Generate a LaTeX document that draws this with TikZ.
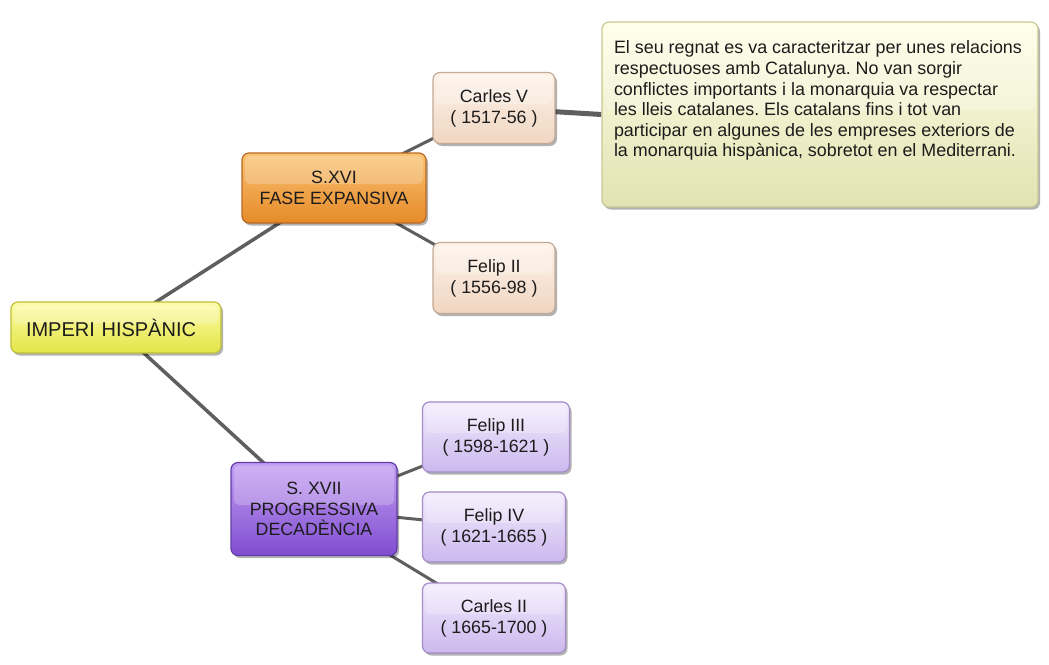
\documentclass[tikz,border=0pt]{standalone}
\usepackage{fontspec}
\setmainfont{Liberation Sans}
\usetikzlibrary{shadows,backgrounds}
\definecolor{txt}{RGB}{28,28,28}
\definecolor{linegray}{RGB}{95,95,95}
\definecolor{yelT}{RGB}{252,252,170}
\definecolor{yelB}{RGB}{228,228,70}
\definecolor{yelD}{RGB}{190,190,60}
\definecolor{orT}{RGB}{250,195,115}
\definecolor{orB}{RGB}{230,138,40}
\definecolor{orD}{RGB}{185,105,35}
\definecolor{peT}{RGB}{254,243,234}
\definecolor{peB}{RGB}{240,214,194}
\definecolor{peD}{RGB}{195,170,150}
\definecolor{deT}{RGB}{255,255,232}
\definecolor{deB}{RGB}{226,226,178}
\definecolor{deD}{RGB}{200,200,150}
\definecolor{puT}{RGB}{195,158,242}
\definecolor{puB}{RGB}{128,78,208}
\definecolor{puD}{RGB}{100,60,170}
\definecolor{lpT}{RGB}{243,236,253}
\definecolor{lpB}{RGB}{204,184,238}
\definecolor{lpD}{RGB}{165,140,200}
\frenchspacing
\begin{document}
\begin{tikzpicture}[x=1pt,y=-1pt,
  box/.style={rounded corners=7pt, line width=1.2pt, align=center, text=txt,
    font=\fontsize{17.8}{21}\selectfont, inner sep=2pt,
    drop shadow={shadow xshift=2pt,shadow yshift=-2.5pt,opacity=0.3,fill=black},
    path picture={\fill[white,opacity=0.22,rounded corners=5pt]
      ([xshift=3pt,yshift=-3pt]path picture bounding box.north west) rectangle
      ([xshift=-3pt,yshift=4pt]path picture bounding box.east);}},
  rootbox/.style={box, draw=yelD, top color=yelT, bottom color=yelB},
  orbox/.style={box, draw=orD, top color=orT, bottom color=orB},
  pebox/.style={box, draw=peD, top color=peT, bottom color=peB},
  descbox/.style={box, draw=deD, top color=deT, bottom color=deB},
  pubox/.style={box, draw=puD, top color=puT, bottom color=puB},
  lpbox/.style={box, draw=lpD, top color=lpT, bottom color=lpB},
  conn/.style={draw=linegray, line width=3pt},
  rootconn/.style={draw=linegray, line width=3.5pt},
  descconn/.style={draw=linegray, line width=5pt}]
\useasboundingbox (0,0) rectangle (1049,664);

\node[rootbox, minimum width=210pt, minimum height=51pt, text width=180pt,
  inner xsep=15pt, align=left, font=\fontsize{20}{24}\selectfont]
  (imp) at (116,327.5) {IMPERI HISPÀNIC};

\node[orbox, minimum width=184pt, minimum height=70pt] (xvi) at (334,188)
  {S.XVI\\FASE EXPANSIVA};
\node[pebox, minimum width=122pt, minimum height=71pt] (carlesv) at (494,108)
  {Carles V\\( 1517-56 )};
\node[pebox, minimum width=122pt, minimum height=71pt] (felipii) at (494,278)
  {Felip II\\( 1556-98 )};

\node[descbox, minimum width=436pt, minimum height=185pt, inner xsep=12pt, inner ysep=19pt]
  (desc) at (820,114.5)
  {\parbox[c][147pt][t]{412pt}{\raggedright\fontsize{17.9}{20.6}\selectfont
  El seu regnat es va caracteritzar per unes relacions\\
  respectuoses amb Catalunya. No van sorgir\\
  conflictes importants i la monarquia va respectar\\
  les lleis catalanes. Els catalans fins i tot van\\
  participar en algunes de les empreses exteriors de\\
  la monarquia hispànica, sobretot en el Mediterrani.}};

\node[pubox, minimum width=166pt, minimum height=93pt, font=\fontsize{17.8}{20.5}\selectfont]
  (xvii) at (314,509) {S. XVII\\PROGRESSIVA\\DECADÈNCIA};
\node[lpbox, minimum width=147pt, minimum height=70pt] (felipiii) at (496,437)
  {Felip III\\( 1598-1621 )};
\node[lpbox, minimum width=143pt, minimum height=70pt] (felipiv) at (494,527)
  {Felip IV\\( 1621-1665 )};
\node[lpbox, minimum width=143pt, minimum height=70pt] (carlesii) at (494,618)
  {Carles II\\( 1665-1700 )};

\begin{scope}[on background layer]
  \fill[white] (0,0) rectangle (1049,664);
  \draw[rootconn] (imp.center) -- (xvi.center);
  \draw[rootconn] (imp.center) -- (xvii.center);
  \draw[conn] (xvi.center) -- (carlesv.center);
  \draw[conn] (xvi.center) -- (felipii.center);
  \draw[descconn] (carlesv.center) -- (desc.west);
  \draw[conn] (xvii.center) -- (felipiii.center);
  \draw[conn] (xvii.center) -- (felipiv.center);
  \draw[conn] (xvii.center) -- (carlesii.center);
\end{scope}
\end{tikzpicture}
\end{document}
